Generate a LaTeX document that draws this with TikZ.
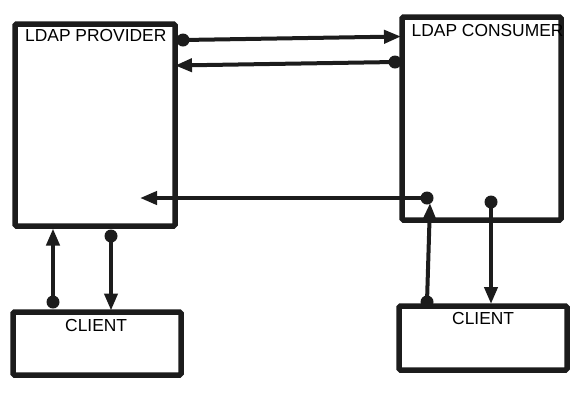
\documentclass[tikz,border=0pt]{standalone}
\usepackage{fontspec}
\setmainfont{Liberation Sans}
\usetikzlibrary{arrows.meta}
\definecolor{ink}{HTML}{1C1C1C}
\tikzset{
  box/.style={draw=ink, line width=5.5bp, rounded corners=1.5bp, inner sep=0pt},
  lbl/.style={anchor=base west, inner sep=0pt, text=black, font=\fontsize{17.4bp}{20bp}\selectfont},
  conn/.style={draw=ink, line width=4bp, -{Triangle[length=17bp,width=13bp]}},
  dotc/.style={fill=ink}
}
\begin{document}
\begin{tikzpicture}[x=1bp,y=-1bp]
\useasboundingbox (0,0) rectangle (587,402);
% boxes
\draw[box] (15,24) rectangle (175,226);
\draw[box] (402,17) rectangle (561,220);
\draw[box] (13,312) rectangle (181,375);
\draw[box] (399,306) rectangle (567,370);
% labels
\node[lbl] (tprov) at (25,41.7) {LDAP PROVIDER};
\node[lbl] (tcons) at (411.5,36) {LDAP CONSUMER};
\node[lbl] (tcl1) at (65,331) {CLIENT};
\node[lbl] (tcl2) at (452,324) {CLIENT};
% connector endpoints
\coordinate (a1s) at (183,40);   \coordinate (a1e) at (401,36.5);
\coordinate (a2s) at (395,62);   \coordinate (a2e) at (175,65.5);
\coordinate (a3s) at (427,198);  \coordinate (a3e) at (140,198);
\coordinate (a4s) at (427,302);  \coordinate (a4e) at (430,203);
\coordinate (a5s) at (491,202);  \coordinate (a5e) at (491,304);
\coordinate (a6s) at (53,302);   \coordinate (a6e) at (53,228.5);
\coordinate (a7s) at (111,236);  \coordinate (a7e) at (111,310.5);
% connectors
\foreach \i in {1,...,7}{
  \draw[conn] (a\i s) -- (a\i e);
  \fill[dotc] (a\i s) circle (6.5bp);
}
\end{tikzpicture}
\end{document}
